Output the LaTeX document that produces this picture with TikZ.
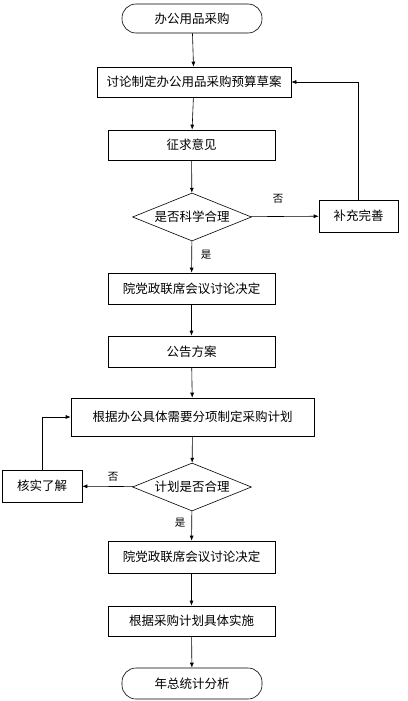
\documentclass[tikz,border=0pt]{standalone}
\usepackage{fontspec}
\setmainfont{Noto Sans CJK SC}
\usetikzlibrary{shapes.geometric,arrows.meta}
\begin{document}
\begin{tikzpicture}[x=1pt,y=-1pt,
  font=\fontsize{12.5}{14}\selectfont,
  box/.style={draw,line width=0.6pt,minimum height=30pt,inner sep=0pt},
  term/.style={draw,line width=0.6pt,rounded corners=14pt,minimum width=140pt,minimum height=29pt,inner sep=0pt},
  dec/.style={draw,line width=0.6pt,diamond,aspect=2.48,minimum width=119pt,minimum height=48pt,inner sep=0pt},
  arr/.style={draw,line width=0.6pt,-{Latex[length=5pt,width=4pt]}},
  lbl/.style={font=\fontsize{10.5}{12}\selectfont}]
\useasboundingbox (0,0) rectangle (407,701);
\node[term] (start) at (192,18.5) {办公用品采购};
\node[box,minimum width=194pt] (b1) at (194,82) {讨论制定办公用品采购预算草案};
\node[box,minimum width=167pt] (b2) at (191.5,145) {征求意见};
\node[dec] (d1) at (192,217) {是否科学合理};
\node[box,minimum width=79pt,minimum height=32pt] (fix) at (358.5,216) {补充完善};
\node[box,minimum width=167pt,minimum height=31pt] (b3) at (191.5,288.5) {院党政联席会议讨论决定};
\node[box,minimum width=167pt,minimum height=31pt] (b4) at (191.5,351.5) {公告方案};
\node[box,minimum width=243pt,minimum height=38pt] (b5) at (192.5,417) {根据办公具体需要分项制定采购计划};
\node[dec] (d2) at (192,487) {计划是否合理};
\node[box,minimum width=80pt,minimum height=32pt] (chk) at (42,486) {核实了解};
\node[box,minimum width=167pt,minimum height=32pt] (b6) at (191.5,557) {院党政联席会议讨论决定};
\node[box,minimum width=167pt,minimum height=30pt] (b7) at (191.5,621) {根据采购计划具体实施};
\node[term,minimum height=31pt] (end) at (192,683.5) {年总统计分析};
\draw[arr] (start) -- (b1);
\draw[arr] (b1) -- (b2);
\draw[arr] (b2) -- (d1);
\draw[arr] (d1) -- (fix);
\draw[arr] (fix.north) |- (b1.east);
\draw[arr] (d1) -- (b3);
\draw[arr] (b3) -- (b4);
\draw[arr] (b4) -- (b5);
\draw[arr] (b5) -- (d2);
\draw[arr] (d2) -- (chk);
\draw[arr] (chk.north) |- (b5.west);
\draw[arr] (d2) -- (b6);
\draw[arr] (b6) -- (b7);
\draw[arr] (b7) -- (end);
\node[lbl] (no1) at (278,199) {否};
\node[lbl] (yes1) at (206,255) {是};
\node[lbl] (no2) at (113,477) {否};
\node[lbl] (yes2) at (180,523) {是};
\end{tikzpicture}
\end{document}
